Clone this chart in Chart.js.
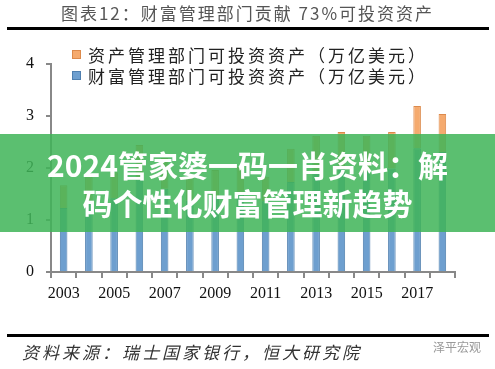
<!DOCTYPE html>
<html>
<head>
<meta charset="utf-8">
<script src="https://cdn.jsdelivr.net/npm/chart.js@4.4.1/dist/chart.umd.min.js"></script>
<style>
  html, body { margin:0; padding:0; background:#fff; }
  #wrap { position:relative; width:495px; height:369px; overflow:hidden; font-family:"Noto Sans CJK SC", sans-serif; }
  #c { position:absolute; left:0; top:0; }
  #title { position:absolute; left:0; width:495px; top:2px; text-align:center; font-size:17px; letter-spacing:2px; color:#555; line-height:22px; white-space:nowrap; }
  .rule { position:absolute; left:7px; width:482px; height:3px; background:#000; }
  #legend { position:absolute; left:72px; top:44px; }
  .li { display:flex; align-items:center; height:21px; font-size:17px; letter-spacing:3px; color:#222; white-space:nowrap; }
  .sw { width:9px; height:9px; margin-right:7px; box-sizing:border-box; }
  #banner { position:absolute; left:0; top:134px; width:495px; height:98px; background:rgba(64,180,89,0.86); color:#fff; font-weight:bold; font-size:30px; line-height:38px; text-align:center; display:flex; flex-direction:column; justify-content:center; }
  #source { position:absolute; left:22px; top:341px; font-size:17px; letter-spacing:3px; font-style:italic; color:#333; white-space:nowrap; line-height:22px; }
  #wm { position:absolute; left:433px; top:338px; font-size:12px; color:#999; white-space:nowrap; }
</style>
</head>
<body>
<div id="wrap">
  <canvas id="c" width="495" height="369"></canvas>
  <div id="title">图表12：财富管理部门贡献 73%可投资资产</div>
  <div class="rule" style="top:27px"></div>
  <div id="legend"></div>
  <div id="banner"><div>2024管家婆一码一肖资料：解</div><div>码个性化财富管理新趋势</div></div>
  <div class="rule" style="top:334px"></div>
  <div id="source">资料来源：瑞士国家银行，恒大研究院</div>
  <div id="wm">泽平宏观</div>
</div>
<script>
const years = ['2003','2004','2005','2006','2007','2008','2009','2010','2011','2012','2013','2014','2015','2016','2017','2018'];
const wealthMgmt = [1.23,1.35,1.42,1.78,1.60,1.37,1.45,1.49,1.36,1.73,1.93,1.98,1.93,1.99,2.38,2.31];
const assetMgmt  = [0.44,0.48,0.50,0.66,0.59,0.46,0.51,0.53,0.47,0.64,0.69,0.71,0.69,0.70,0.81,0.73];
const yTicks = [0,1,2,3,4];
const seriesNames = ['财富管理部门可投资资产（万亿美元）','资产管理部门可投资资产（万亿美元）'];
const fills = ['#6E9FCF','#F5AA6E'];
const borders = ['#4F7FAF','#DC8A4C'];

const chart = new Chart(document.getElementById('c'), {
  type: 'bar',
  data: {
    labels: years,
    datasets: [
      { label: seriesNames[0], data: wealthMgmt, backgroundColor: fills[0], borderColor: borders[0], borderWidth: 1, barPercentage: 0.3, categoryPercentage: 1 },
      { label: seriesNames[1], data: assetMgmt, backgroundColor: fills[1], borderColor: borders[1], borderWidth: 1, barPercentage: 0.3, categoryPercentage: 1 }
    ]
  },
  options: {
    responsive: false,
    animation: false,
    layout: { padding: { left: 0, right: 40, top: 64, bottom: 0 } },
    plugins: { legend: { display: false }, tooltip: { enabled: false } },
    scales: {
      x: {
        stacked: true,
        afterFit: s => { s.height = 97; },
        grid: { display: true, drawOnChartArea: false, drawTicks: true, tickLength: 6, color: '#888', lineWidth: 2, offset: true },
        border: { color: '#888', width: 2 },
        ticks: { autoSkip: false, maxRotation: 0, padding: 6, color: '#111', font: { family: 'Liberation Serif', size: 16 },
          callback: (v, i) => (i % 2 === 0 ? years[i] : '') }
      },
      y: {
        stacked: true,
        min: yTicks[0], max: yTicks[yTicks.length - 1],
        afterFit: s => { s.width = 51; },
        afterBuildTicks: s => { s.ticks = yTicks.map(v => ({ value: v })); },
        grid: { display: true, drawOnChartArea: false, drawTicks: true, tickLength: 5, color: '#888', lineWidth: 2 },
        border: { color: '#888', width: 2 },
        ticks: { padding: 12, color: '#111', font: { family: 'Liberation Serif', size: 16 } }
      }
    }
  }
});

// HTML legend built from the chart's datasets (orange first, as in the reference)
const lg = document.getElementById('legend');
[1, 0].forEach(i => {
  const ds = chart.data.datasets[i];
  const row = document.createElement('div'); row.className = 'li';
  const sw = document.createElement('div'); sw.className = 'sw';
  sw.style.background = ds.backgroundColor; sw.style.border = '1px solid ' + ds.borderColor;
  const t = document.createElement('span'); t.textContent = ds.label;
  row.appendChild(sw); row.appendChild(t); lg.appendChild(row);
});
</script>
</body>
</html>
